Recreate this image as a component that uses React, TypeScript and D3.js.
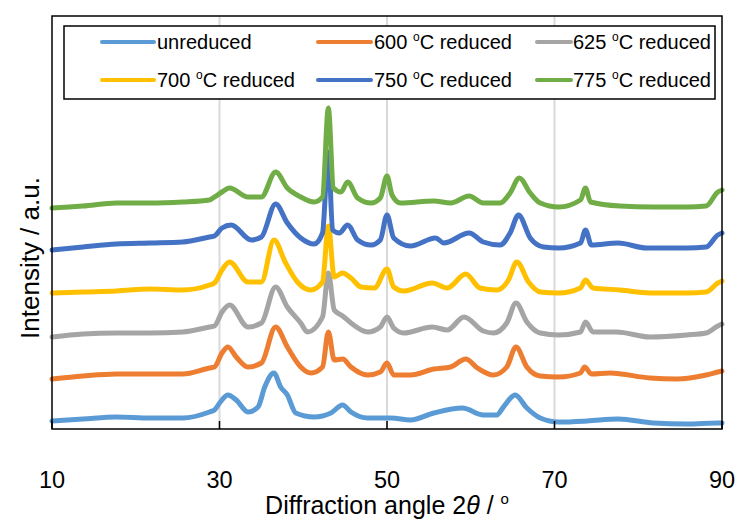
import React from "react";
import * as d3 from "d3";

// XRD patterns, stacked (angle in degrees, intensity in a.u. incl. offset)
const unreduced: [number, number][] = [
  [10, 8], [13.7, 10], [17.7, 12], [21.7, 11], [25.6, 11], [28.8, 17], [29.4, 19], [30.1, 27],
  [31.0, 34], [32.0, 29], [33.4, 17], [34.6, 22], [35.4, 42], [36.5, 56], [37.3, 42], [38.1, 34],
  [39.1, 16], [41.3, 12], [43.3, 16], [44.7, 24], [45.7, 17], [47.7, 11], [49.2, 11], [50.5, 11],
  [52.8, 9], [55.6, 16], [59.0, 21], [61.5, 14], [63.1, 14], [63.9, 22], [65.3, 34], [66.7, 21],
  [68.3, 11], [70.5, 7], [73.9, 8], [77.6, 10], [81.8, 6], [85.8, 5], [89.5, 6], [90, 6],
];

const reduced600: [number, number][] = [
  [10, 50], [13.7, 53], [17.7, 55], [21.7, 55], [25.6, 55], [28.8, 61], [29.4, 62], [30.3, 76],
  [31.0, 82], [32.0, 72], [33.4, 62], [35.0, 66], [36.7, 102], [38.1, 82], [39.7, 62], [40.9, 56],
  [42.3, 62], [43.0, 97], [43.7, 69], [44.7, 70], [45.7, 62], [47.7, 54], [49.2, 57], [50.0, 66],
  [50.8, 54], [52.8, 54], [55.6, 60], [57.6, 62], [59.4, 70], [60.8, 61], [62.7, 54], [64.3, 62],
  [65.4, 82], [66.7, 62], [68.3, 53], [70.5, 52], [73.1, 56], [73.6, 62], [74.4, 55], [76.6, 56],
  [81.4, 51], [84.6, 50], [88.1, 54], [89.5, 57], [90, 58],
];

const reduced625: [number, number][] = [
  [10, 92], [13.7, 95], [17.7, 96], [21.7, 96], [25.6, 97], [28.8, 102], [29.4, 103], [30.3, 117],
  [31.2, 124], [33.4, 102], [35.0, 106], [36.7, 142], [38.1, 122], [39.7, 106], [40.5, 97], [42.3, 112],
  [43.0, 156], [43.7, 119], [44.7, 113], [45.7, 106], [47.7, 97], [49.2, 102], [50.0, 112], [50.8, 101],
  [52.0, 96], [55.4, 102], [57.2, 99], [59.2, 112], [61.5, 98], [62.7, 96], [64.3, 106], [65.4, 126],
  [66.7, 107], [68.3, 96], [70.5, 94], [73.1, 97], [73.7, 107], [74.6, 97], [77.4, 97], [81.4, 92],
  [85.8, 94], [88.1, 96], [89.5, 103], [90, 105],
];

const reduced700: [number, number][] = [
  [10, 136], [13.7, 137], [17.7, 138], [21.7, 140], [25.6, 139], [28.8, 144], [29.4, 146], [30.3, 159],
  [31.2, 167], [33.4, 147], [35.0, 147], [36.5, 189], [37.9, 166], [39.3, 147], [40.9, 139], [42.3, 147],
  [43.0, 203], [43.7, 152], [44.7, 156], [45.7, 151], [46.9, 142], [48.5, 141], [50.0, 160], [50.8, 142],
  [52.0, 138], [55.4, 146], [57.2, 141], [59.4, 155], [61.1, 141], [63.1, 139], [64.5, 149], [65.5, 167],
  [66.9, 147], [68.3, 137], [70.5, 136], [73.1, 141], [73.7, 149], [74.6, 141], [77.8, 139], [81.4, 136],
  [85.8, 136], [88.1, 137], [89.5, 146], [90, 148],
];

const reduced750: [number, number][] = [
  [10, 179], [13.7, 182], [17.7, 185], [21.7, 186], [25.6, 187], [28.8, 192], [29.4, 193], [30.3, 201],
  [31.4, 204], [33.8, 189], [35.0, 192], [36.7, 225], [38.1, 206], [39.7, 191], [41.3, 185], [42.3, 196],
  [43.0, 277], [43.5, 199], [44.3, 196], [45.3, 204], [46.5, 189], [48.1, 184], [49.2, 189], [50.0, 214],
  [50.8, 191], [52.8, 183], [55.8, 191], [56.8, 186], [59.8, 196], [61.5, 187], [63.5, 184], [64.7, 196],
  [65.7, 214], [67.1, 191], [68.7, 182], [70.5, 181], [73.1, 186], [73.7, 199], [74.4, 184], [77.6, 186],
  [81.0, 181], [85.8, 181], [88.1, 182], [89.5, 194], [90, 196],
];

const reduced775: [number, number][] = [
  [10, 221], [12, 222], [13.7, 223], [17.7, 226], [21.7, 226], [25.6, 227], [28.8, 229], [29.4, 232],
  [30.3, 237], [31.2, 241], [33.4, 232], [35.0, 232], [36.7, 257], [38.1, 241], [39.7, 232], [41.3, 227],
  [42.3, 232], [43.0, 321], [43.6, 241], [44.5, 237], [45.3, 247], [46.5, 231], [48.1, 226], [49.2, 231],
  [50.0, 253], [50.6, 234], [51.6, 226], [55.6, 228], [57.6, 226], [59.8, 233], [61.5, 226], [63.5, 226],
  [64.7, 236], [65.8, 251], [67.1, 236], [68.3, 226], [70.5, 222], [73.1, 229], [73.7, 241], [74.3, 227],
  [77.8, 223], [81.8, 222], [85.8, 222], [88.1, 223], [89.5, 237], [90, 239],
];

const seriesNames = ["unreduced", "600", "625", "700", "750", "775"];
const seriesColors = ["#5B9BD5", "#ED7D31", "#A5A5A5", "#FFC000", "#4472C4", "#70AD47"];
const seriesData = [unreduced, reduced600, reduced625, reduced700, reduced750, reduced775];
const xTicks = [10, 30, 50, 70, 90];
const gridTicks = [30, 50, 70];

const W = 738;
const H = 521;
const left = 52, right = 722, top = 16, bottom = 429;
const font = "'Liberation Sans', Arial, sans-serif";

export default function App() {
  const x = d3.scaleLinear().domain([10, 90]).range([left, right]);
  const y = d3.scaleLinear().domain([0, 413]).range([bottom, top]);
  const line = d3.line<[number, number]>()
    .x(d => x(d[0]))
    .y(d => y(d[1]))
    .curve(d3.curveMonotoneX);

  // legend layout: 3 columns x 2 rows
  const legCols = [
    { lx1: 102, lx2: 154, tx: 157 },
    { lx1: 318, lx2: 371, tx: 374 },
    { lx1: 537, lx2: 571, tx: 573 },
  ];
  const legRows = [42, 80];

  return (
    <svg width={W} height={H} style={{ position: "absolute", left: 0, top: 0, background: "#fff" }}
      fontFamily={font}>
      <rect x={0} y={0} width={W} height={H} fill="#fff" />

      {/* gridlines */}
      {gridTicks.map(t => (
        <line key={"g" + t} x1={x(t)} x2={x(t)} y1={top} y2={bottom} stroke="#D9D9D9" strokeWidth={2} />
      ))}

      {/* series */}
      {seriesData.map((d, i) => (
        <path key={seriesNames[i]} d={line(d) || ""} fill="none" stroke={seriesColors[i]}
          strokeWidth={5} strokeLinejoin="round" strokeLinecap="round" />
      ))}

      {/* plot frame */}
      <rect x={left} y={top} width={right - left} height={bottom - top} fill="none" stroke="#000" strokeWidth={1.5} />

      {/* ticks (inside) */}
      {xTicks.map(t => (
        <line key={"t" + t} x1={x(t)} x2={x(t)} y1={bottom} y2={bottom - 8} stroke="#000" strokeWidth={1.5} />
      ))}
      {xTicks.map(t => (
        <text key={"l" + t} x={x(t)} y={488} textAnchor="middle" fontSize={23.5} fill="#000">{t}</text>
      ))}

      {/* axis titles */}
      <text x={387} y={514} textAnchor="middle" fontSize={25} fill="#000">
        Diffraction angle 2<tspan fontStyle="italic">θ</tspan> / <tspan fontSize={15} dy={-10}>o</tspan>
      </text>
      <text transform="translate(39,258) rotate(-90)" textAnchor="middle" fontSize={26} fill="#000">
        Intensity / a.u.
      </text>

      {/* legend */}
      <rect x={64} y={26} width={651} height={73} fill="#fff" stroke="#000" strokeWidth={1.5} />
      {seriesNames.map((name, i) => {
        const c = legCols[i % 3];
        const ry = legRows[Math.floor(i / 3)];
        return (
          <g key={"leg" + name}>
            <line x1={c.lx1} x2={c.lx2} y1={ry} y2={ry} stroke={seriesColors[i]} strokeWidth={4} strokeLinecap="round" />
            <text x={c.tx} y={ry + 7} fontSize={20} fill="#000">
              {name === "unreduced" ? "unreduced" : (
                <>
                  {name + " "}
                  <tspan fontSize={12} dy={-8}>o</tspan>
                  <tspan dy={8}>C reduced</tspan>
                </>
              )}
            </text>
          </g>
        );
      })}
    </svg>
  );
}
